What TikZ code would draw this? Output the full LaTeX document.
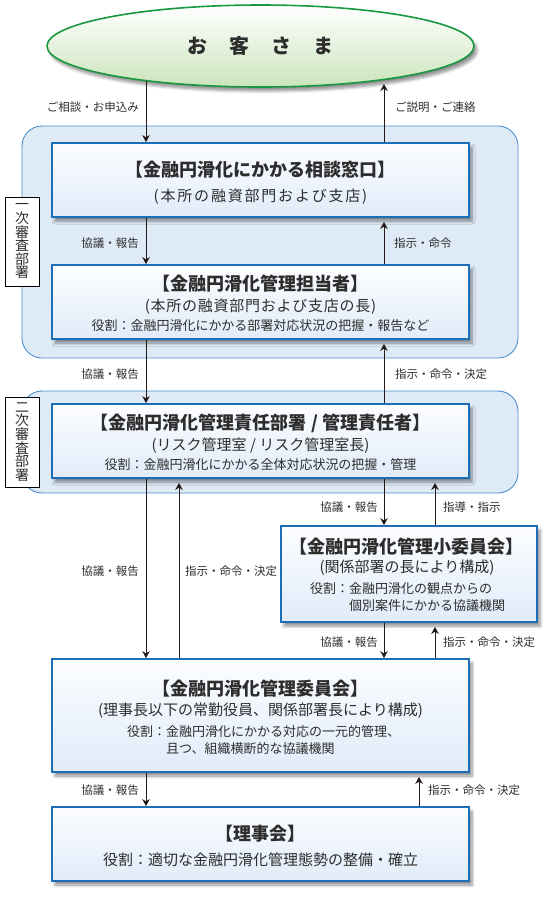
\documentclass[tikz,border=0pt]{standalone}
\usepackage{fontspec}
\setmainfont{Noto Sans CJK JP}
\usetikzlibrary{arrows.meta,shapes.geometric,shadows.blur}
\definecolor{boxline}{RGB}{28,110,183}
\definecolor{boxtop}{RGB}{252,253,255}
\definecolor{boxbot}{RGB}{224,236,249}
\definecolor{grpline}{RGB}{74,142,206}
\definecolor{grpfill}{RGB}{223,234,247}
\definecolor{ellline}{RGB}{24,152,64}
\definecolor{ellbot}{RGB}{203,229,188}
\definecolor{txt}{RGB}{45,45,45}
\definecolor{arrowc}{RGB}{35,25,22}
\begin{document}
\begin{tikzpicture}[x=1pt,y=-1pt,
  shd/.style={blur shadow={shadow xshift=3pt,shadow yshift=-4pt,shadow blur radius=3pt,shadow blur steps=6,shadow opacity=45}},
  grp/.style={draw=grpline,fill=grpfill,line width=0.9pt,rounded corners=20pt,inner sep=0pt,minimum width=496pt},
  box/.style={draw=boxline,line width=1.8pt,top color=boxtop,bottom color=boxbot,inner sep=0pt,shd},
  side/.style={draw=black,line width=0.6pt,fill=white,inner sep=0pt,minimum width=34pt,align=center,text=txt,font=\fontsize{14}{13.6}\selectfont},
  arr/.style={draw=arrowc,line width=0.8pt,-{Stealth[length=7pt,width=7.5pt]}},
  uparr/.style={arr,shorten >=4pt},
  lbl/.style={font=\fontsize{11.5}{13}\selectfont,text=txt,inner sep=0pt},
  ttl/.style={font=\bfseries\fontsize{18}{20}\selectfont,text=txt,inner sep=0pt},
  subt/.style={font=\fontsize{15}{17}\selectfont,text=txt,inner sep=0pt},
  role/.style={font=\fontsize{13}{16.5}\selectfont,text=txt,inner sep=0pt,align=left}]
\useasboundingbox (0,0) rectangle (550,900);

% customer ellipse
\node[ellipse,draw=ellline,line width=1.6pt,top color=white,bottom color=ellbot,
  minimum width=427pt,minimum height=82pt,inner sep=0pt,shd,
  font=\bfseries\fontsize{20}{22}\selectfont,text=txt] (cust) at (260.5,46)
  {お\hspace{22pt}客\hspace{22pt}さ\hspace{22pt}ま};

% groups
\node[grp,minimum height=232pt] (g1) at (270,242) {};
\node[grp,minimum height=102pt] (g2) at (270,442) {};
\node[side,minimum height=89pt] (s1) at (22,241.5) {一\\次\\審\\査\\部\\署};
\node[side,minimum height=90pt] (s2) at (22,442) {二\\次\\審\\査\\部\\署};

% boxes
\node[box,minimum width=417pt,minimum height=74pt] (b1) at (260.5,180) {};
\node[box,minimum width=417pt,minimum height=74pt] (b2) at (260.5,302) {};
\node[box,minimum width=417pt,minimum height=74pt] (b3) at (260.5,441) {};
\node[box,minimum width=256pt,minimum height=96pt] (b4) at (409,574) {};
\node[box,minimum width=417pt,minimum height=113pt] (b5) at (260.5,715.5) {};
\node[box,minimum width=417pt,minimum height=74pt] (b6) at (260.5,844) {};

% box texts
\node[ttl] (b1t) at (260.5,170) {【金融円滑化にかかる相談窓口】};
\node[subt] (b1s) at (260.5,197) {\addfontfeature{LetterSpace=12}(本所の融資部門および支店)};

\node[ttl] (b2t) at (260.5,284) {【金融円滑化管理担当者】};
\node[subt] (b2s) at (260.5,307) {\addfontfeature{LetterSpace=5}(本所の融資部門および支店の長)};
\node[role] (b2r) at (260.5,326) {役割：金融円滑化にかかる部署対応状況の把握・報告など};

\node[ttl] (b3t) at (260.5,423) {【金融円滑化管理責任部署 / 管理責任者】};
\node[subt] (b3s) at (260.5,446) {(リスク管理室 / リスク管理室長)};
\node[role] (b3r) at (260.5,465) {役割：金融円滑化にかかる全体対応状況の把握・管理};

\node[ttl] (b4t) at (406,547) {【金融円滑化管理小委員会】};
\node[subt] (b4s) at (407,568) {(関係部署の長により構成)};
\node[role,anchor=west] (b4r) at (310,597) {役割：金融円滑化の観点からの\\\phantom{役割：}個別案件にかかる協議機関};

\node[ttl] (b5t) at (260.5,689) {【金融円滑化管理委員会】};
\node[subt] (b5s) at (260.5,711) {(理事長以下の常勤役員、関係部署長により構成)};
\node[role,anchor=west,font=\fontsize{13}{17}\selectfont] (b5r) at (127,740.5) {役割：金融円滑化にかかる対応の一元的管理、\\\phantom{役割：}且つ、組織横断的な協議機関};

\node[ttl] (b6t) at (260.5,834) {【理事会】};
\node[role,font=\fontsize{15}{17}\selectfont] (b6r) at (260.5,860) {役割：適切な金融円滑化管理態勢の整備・確立};

% columns
\coordinate (e1) at (146,80.6);
\coordinate (e2) at (384,84);
\coordinate (cL) at (146,0);
\coordinate (cR) at (384,0);
\coordinate (cM) at (179,0);
\coordinate (cS) at (435,0);
\coordinate (cT) at (419,0);

% connectors
\draw[arr] (e1) -- (e1 |- b1.north);
\draw[arr] (b1.north -| e2) -- (e2);
\draw[arr] (b1.south -| cL) -- (b2.north -| cL);
\draw[uparr] (b2.north -| cR) -- (b1.south -| cR);
\draw[arr] (b2.south -| cL) -- (b3.north -| cL);
\draw[uparr] (b3.north -| cR) -- (b2.south -| cR);
\draw[arr] (b3.south -| cL) -- (b5.north -| cL);
\draw[uparr] (b5.north -| cM) -- (b3.south -| cM);
\draw[arr] (b3.south -| cR) -- (b4.north -| cR);
\draw[uparr] (b4.north -| cS) -- (b3.south -| cS);
\draw[arr] (b4.south -| cR) -- (b5.north -| cR);
\draw[uparr] (b5.north -| cS) -- (b4.south -| cS);
\draw[arr] (b5.south -| cL) -- (b6.north -| cL);
\draw[uparr] (b6.north -| cT) -- (b5.south -| cT);

% connector labels
\node[lbl,anchor=east] (l1) at (139,107) {ご相談・お申込み};
\node[lbl,anchor=west] (l2) at (395,107) {ご説明・ご連絡};
\node[lbl,anchor=east] (l3) at (139,243) {協議・報告};
\node[lbl,anchor=west] (l4) at (394,243) {指示・命令};
\node[lbl,anchor=east] (l5) at (139,374) {協議・報告};
\node[lbl,anchor=west] (l6) at (395,374) {指示・命令・決定};
\node[lbl,anchor=east] (l7) at (139,571) {協議・報告};
\node[lbl,anchor=west] (l8) at (185,571) {指示・命令・決定};
\node[lbl,anchor=east] (l9) at (378,507) {協議・報告};
\node[lbl,anchor=west] (l10) at (443,507) {指導・指示};
\node[lbl,anchor=east] (l11) at (378,642) {協議・報告};
\node[lbl,anchor=west] (l12) at (443,642) {指示・命令・決定};
\node[lbl,anchor=east] (l13) at (139,790) {協議・報告};
\node[lbl,anchor=west] (l14) at (428,790) {指示・命令・決定};
\end{tikzpicture}
\end{document}
